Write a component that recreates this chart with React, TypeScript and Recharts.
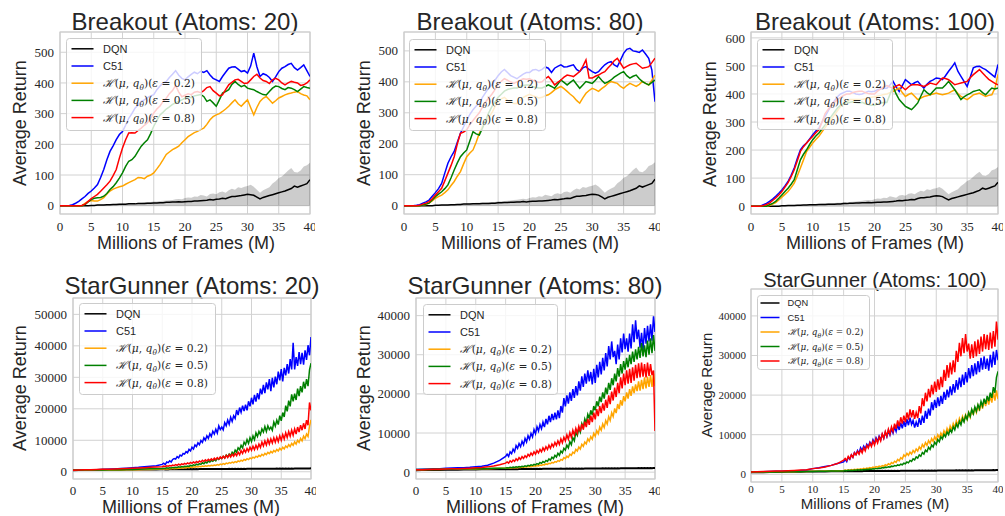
import React from 'react';
import { ComposedChart, Line, Area, XAxis, YAxis, CartesianGrid, ReferenceArea, Legend } from 'recharts';

// ---------- data ----------
// Breakout panels: sampled every 0.5M frames
const FRAMES = [
  0, 0.5, 1, 1.5, 2, 2.5, 3, 3.5, 4, 4.5,
  5, 5.5, 6, 6.5, 7, 7.5, 8, 8.5, 9, 9.5,
  10, 10.5, 11, 11.5, 12, 12.5, 13, 13.5, 14, 14.5,
  15, 15.5, 16, 16.5, 17, 17.5, 18, 18.5, 19, 19.5,
  20, 20.5, 21, 21.5, 22, 22.5, 23, 23.5, 24, 24.5,
  25, 25.5, 26, 26.5, 27, 27.5, 28, 28.5, 29, 29.5,
  30, 30.5, 31, 31.5, 32, 32.5, 33, 33.5, 34, 34.5,
  35, 35.5, 36, 36.5, 37, 37.5, 38, 38.5, 39, 39.5,
  40,
];
// StarGunner panels: every 1M up to 15M, then every 0.25M
const SG_FRAMES = [
  0, 1, 2, 3, 4, 5, 6, 7, 8, 9, 10, 11, 12, 13, 14, 15,
  15.25, 15.5, 15.75, 16, 16.25, 16.5, 16.75, 17,
  17.25, 17.5, 17.75, 18, 18.25, 18.5, 18.75, 19,
  19.25, 19.5, 19.75, 20, 20.25, 20.5, 20.75, 21,
  21.25, 21.5, 21.75, 22, 22.25, 22.5, 22.75, 23,
  23.25, 23.5, 23.75, 24, 24.25, 24.5, 24.75, 25,
  25.25, 25.5, 25.75, 26, 26.25, 26.5, 26.75, 27,
  27.25, 27.5, 27.75, 28, 28.25, 28.5, 28.75, 29,
  29.25, 29.5, 29.75, 30, 30.25, 30.5, 30.75, 31,
  31.25, 31.5, 31.75, 32, 32.25, 32.5, 32.75, 33,
  33.25, 33.5, 33.75, 34, 34.25, 34.5, 34.75, 35,
  35.25, 35.5, 35.75, 36, 36.25, 36.5, 36.75, 37,
  37.25, 37.5, 37.75, 38, 38.25, 38.5, 38.75, 39,
  39.25, 39.5, 39.75, 40,
];
const X_TICKS = [0, 5, 10, 15, 20, 25, 30, 35, 40];
const Y_TICKS_BREAKOUT = [0, 100, 200, 300, 400, 500];
const Y_TICKS_BREAKOUT_100 = [0, 100, 200, 300, 400, 500, 600];
const Y_TICKS_SG_20 = [0, 10000, 20000, 30000, 40000, 50000];
const Y_TICKS_SG = [0, 10000, 20000, 30000, 40000];

const SERIES_LABELS = ['DQN', 'C51', '0.2', '0.5', '0.8'];

const BREAKOUT_DQN = [
  0, 0, 0, 0, 0, 0, 0, 0, 0, 0,
  1, 1, 2, 2, 2, 3, 3, 4, 4, 5,
  5, 5, 6, 6, 6, 7, 7, 7, 8, 8,
  9, 9, 10, 10, 11, 11, 12, 12, 13, 12,
  13, 14, 14, 15, 15, 16, 17, 18, 20, 19,
  21, 22, 24, 23, 27, 30, 30, 32, 33, 35,
  37, 36, 34, 28, 22, 27, 30, 33, 36, 39,
  42, 45, 48, 52, 56, 64, 60, 64, 68, 72,
  85,
];
const BREAKOUT_DQN_HIGH = [
  0, 0, 0, 0, 0, 0, 0, 0, 1, 1,
  2, 2, 3, 3, 4, 4, 5, 5, 6, 6,
  7, 7, 8, 9, 9, 10, 10, 11, 12, 12,
  14, 14, 15, 16, 17, 18, 19, 21, 22, 21,
  25, 27, 26, 30, 29, 35, 33, 30, 38, 40,
  37, 44, 46, 42, 50, 55, 52, 60, 58, 62,
  64, 68, 62, 52, 42, 50, 55, 60, 72, 80,
  90, 95, 105, 115, 123, 110, 108, 115, 128, 132,
  140,
];

const B20_C51 = [
  0, 0, 0, 1, 3, 8, 14, 22, 30, 40,
  48, 58, 69, 92, 118, 150, 177, 195, 215, 232,
  242, 262, 285, 300, 318, 328, 340, 345, 352, 358,
  362, 378, 390, 400, 405, 418, 428, 440, 425, 415,
  410, 420, 428, 435, 430, 438, 434, 440, 426, 415,
  410, 405, 421, 435, 448, 452, 453, 445, 437, 440,
  432, 455, 497, 453, 421, 430, 426, 418, 405, 420,
  437, 448, 453, 460, 464, 450, 442, 450, 459, 440,
  421,
];
const B20_E02 = [
  0, 0, 0, 0, 0, 0, 0, 0, 8, 14,
  17, 15, 15, 20, 26, 38, 48, 54, 58, 62,
  64, 70, 75, 80, 85, 92, 91, 88, 96, 100,
  107, 120, 134, 150, 167, 175, 183, 188, 194, 205,
  215, 225, 232, 238, 242, 248, 253, 265, 280, 290,
  296, 300, 307, 315, 324, 335, 345, 332, 324, 335,
  345, 320, 296, 320, 340, 350, 356, 345, 334, 342,
  351, 356, 361, 365, 367, 370, 372, 365, 361, 358,
  345,
];
const B20_E05 = [
  0, 0, 0, 0, 0, 0, 0, 0, 4, 12,
  20, 24, 26, 27, 31, 40, 53, 62, 75, 90,
  107, 128, 145, 150, 161, 178, 194, 205, 215, 235,
  259, 278, 296, 305, 315, 322, 330, 335, 340, 345,
  350, 355, 352, 358, 360, 362, 356, 340, 345, 335,
  324, 345, 367, 372, 378, 395, 405, 395, 388, 392,
  383, 380, 378, 372, 367, 362, 361, 372, 383, 390,
  388, 382, 378, 385, 383, 378, 372, 380, 388, 385,
  383,
];
const B20_E08 = [
  0, 0, 0, 0, 0, 0, 0, 1, 5, 14,
  23, 30, 37, 47, 58, 68, 80, 98, 118, 155,
  188, 215, 237, 238, 237, 245, 253, 262, 270, 285,
  302, 315, 325, 340, 350, 365, 375, 392, 370, 355,
  360, 365, 362, 370, 372, 368, 375, 385, 388, 375,
  367, 358, 361, 378, 394, 402, 410, 412, 405, 398,
  400, 410, 421, 428, 416, 408, 405, 398, 410, 415,
  410, 400, 394, 400, 405, 402, 400, 392, 394, 400,
  410,
];

const B80_C51 = [
  0, 0, 0, 0, 1, 3, 8, 12, 18, 30,
  42, 55, 72, 105, 137, 158, 175, 205, 234, 255,
  277, 295, 310, 322, 330, 350, 365, 380, 390, 405,
  420, 432, 440, 430, 420, 415, 410, 418, 425, 430,
  430, 438, 440, 435, 440, 448, 444, 430, 444, 450,
  455, 448, 449, 452, 455, 440, 433, 445, 449, 440,
  433, 428, 433, 445, 455, 462, 465, 455, 449, 470,
  492, 505, 508, 500, 498, 495, 503, 490, 476, 438,
  336,
];
const B80_E02 = [
  0, 0, 0, 0, 0, 0, 2, 4, 8, 15,
  24, 29, 34, 42, 51, 65, 78, 95, 110, 135,
  158, 170, 180, 205, 234, 255, 270, 285, 300, 320,
  335, 345, 350, 340, 335, 330, 330, 340, 350, 355,
  360, 355, 352, 348, 350, 355, 358, 365, 374, 380,
  385, 378, 369, 360, 352, 340, 331, 348, 363, 372,
  379, 375, 369, 378, 385, 395, 401, 398, 395, 385,
  379, 388, 395, 390, 385, 392, 401, 395, 390, 405,
  422,
];
const B80_E05 = [
  0, 0, 0, 0, 0, 0, 2, 5, 8, 18,
  29, 37, 45, 55, 67, 90, 115, 138, 158, 170,
  180, 210, 239, 232, 228, 250, 275, 300, 320, 335,
  350, 360, 370, 375, 378, 380, 380, 385, 388, 390,
  390, 385, 382, 380, 380, 385, 390, 385, 379, 392,
  406, 398, 390, 398, 406, 392, 379, 390, 401, 398,
  395, 405, 417, 405, 395, 400, 406, 415, 422, 428,
  433, 420, 412, 418, 422, 410, 401, 395, 390, 398,
  406,
];
const B80_E08 = [
  0, 0, 0, 0, 0, 1, 5, 8, 13, 22,
  34, 45, 56, 80, 105, 130, 158, 200, 234, 238,
  245, 262, 275, 288, 300, 318, 335, 348, 360, 375,
  392, 402, 410, 405, 400, 395, 400, 405, 410, 408,
  410, 405, 402, 398, 400, 410, 417, 405, 390, 398,
  406, 415, 422, 420, 417, 425, 433, 450, 471, 412,
  412, 418, 422, 428, 433, 445, 455, 468, 476, 460,
  444, 450, 455, 458, 460, 452, 444, 446, 449, 462,
  476,
];

const B100_C51 = [
  0, 0, 0, 0, 5, 10, 17, 25, 35, 46,
  58, 72, 88, 110, 136, 170, 201, 215, 225, 240,
  255, 268, 278, 300, 320, 340, 360, 375, 390, 400,
  405, 410, 410, 405, 400, 398, 400, 405, 410, 408,
  410, 415, 418, 420, 420, 432, 445, 425, 409, 430,
  451, 442, 433, 440, 445, 432, 421, 435, 445, 450,
  457, 455, 451, 465, 481, 495, 511, 481, 463, 445,
  427, 460, 493, 498, 499, 492, 487, 478, 469, 460,
  505,
];
const B100_E02 = [
  0, 0, 0, 0, 0, 0, 2, 7, 13, 22,
  32, 42, 52, 66, 82, 108, 136, 165, 195, 210,
  225, 238, 249, 265, 280, 295, 310, 325, 340, 355,
  365, 372, 380, 380, 380, 380, 380, 383, 385, 388,
  390, 393, 395, 398, 400, 405, 409, 415, 421, 405,
  391, 398, 403, 392, 380, 385, 391, 394, 397, 400,
  403, 400, 397, 400, 403, 409, 415, 402, 391, 385,
  380, 388, 397, 400, 403, 397, 391, 395, 397, 420,
  470,
];
const B100_E05 = [
  0, 0, 0, 0, 0, 0, 5, 10, 17, 28,
  40, 52, 64, 78, 94, 130, 165, 185, 201, 220,
  237, 250, 261, 275, 290, 305, 320, 335, 350, 360,
  365, 370, 370, 372, 370, 368, 370, 365, 362, 360,
  360, 365, 368, 370, 370, 398, 427, 400, 380, 368,
  356, 350, 344, 355, 368, 392, 415, 405, 397, 410,
  421, 421, 421, 432, 445, 430, 415, 398, 380, 390,
  397, 402, 409, 412, 415, 405, 397, 410, 421, 418,
  421,
];
const B100_E08 = [
  0, 0, 0, 0, 2, 6, 11, 20, 29, 40,
  52, 68, 84, 105, 130, 162, 195, 212, 225, 238,
  249, 262, 272, 300, 330, 345, 358, 370, 380, 388,
  395, 400, 400, 405, 408, 410, 410, 405, 402, 400,
  400, 410, 418, 425, 430, 425, 421, 428, 433, 425,
  415, 425, 433, 433, 433, 430, 427, 432, 439, 436,
  433, 445, 457, 455, 451, 442, 433, 436, 439, 442,
  445, 458, 469, 478, 487, 475, 463, 452, 445, 438,
  433,
];

const SG_DQN = [
  500, 520, 540, 560, 580, 600, 620, 640, 660, 680, 700, 710, 720, 740, 750, 760,
  780, 740, 790, 750, 800, 760, 800, 770,
  810, 780, 820, 790, 830, 800, 830, 800,
  840, 810, 850, 820, 850, 820, 860, 830,
  870, 840, 870, 840, 880, 850, 880, 850,
  890, 860, 890, 860, 900, 870, 900, 870,
  910, 880, 910, 880, 920, 890, 920, 890,
  930, 900, 930, 900, 940, 910, 940, 910,
  950, 920, 950, 920, 960, 930, 960, 930,
  970, 940, 970, 940, 980, 950, 980, 950,
  990, 960, 990, 960, 1000, 970, 1000, 970,
  1010, 980, 1010, 980, 1020, 990, 1020, 990,
  1030, 1000, 1030, 1000, 1040, 1010, 1040, 1010,
  1050, 1020, 1060, 1080,
];

const SG20_C51 = [
  500, 520, 550, 580, 620, 700, 780, 880, 1000, 1150, 1270, 1400, 1590, 1750, 1900, 2330,
  2700, 2300, 3100, 2900, 3500, 3100, 3900, 4200,
  4000, 4800, 4400, 5300, 5000, 5800, 5600, 6400,
  6000, 7100, 6600, 7800, 7200, 8500, 8000, 9200,
  8600, 9900, 9300, 10800, 10000, 11400, 10600, 12100,
  11200, 12900, 12000, 13500, 12300, 14600, 13400, 14200,
  13300, 15600, 14600, 16400, 15100, 17300, 16000, 17800,
  16900, 19600, 18000, 20400, 18900, 21000, 19300, 21300,
  19500, 22400, 20800, 23500, 21400, 24400, 22300, 25000,
  23000, 26400, 24600, 27600, 25000, 28400, 26200, 29400,
  25600, 29800, 26800, 30200, 27800, 31800, 29000, 32600,
  28700, 33000, 30600, 34200, 31200, 35800, 32500, 41000,
  32500, 36400, 33600, 38000, 34200, 37800, 34000, 38600,
  35500, 40200, 37000, 42800,
];
const SG20_E02 = [
  480, 490, 500, 510, 520, 530, 550, 570, 590, 610, 640, 670, 700, 740, 790, 850,
  920, 860, 980, 900, 1020, 950, 1080, 1000,
  1120, 1050, 1180, 1100, 1250, 1150, 1320, 1220,
  1400, 1300, 1480, 1380, 1560, 1450, 1650, 1530,
  1720, 1600, 1800, 1680, 1880, 1750, 1960, 1830,
  2050, 1900, 2150, 2000, 2280, 2120, 2420, 2250,
  2580, 2380, 2750, 2550, 2900, 2700, 3050, 2850,
  3250, 3000, 3450, 3200, 3650, 3400, 3900, 3650,
  4150, 3850, 4400, 4100, 4650, 4350, 4950, 4600,
  5250, 4900, 5550, 5150, 5850, 5450, 6150, 5750,
  6450, 6000, 6750, 6300, 7100, 6600, 7450, 6900,
  7800, 7250, 8200, 7700, 8600, 8000, 9000, 8400,
  9500, 8800, 10000, 9300, 10600, 9800, 11300, 10500,
  12000, 11200, 14500, 16500,
];
const SG20_E05 = [
  500, 510, 520, 540, 560, 580, 600, 630, 660, 700, 750, 800, 850, 920, 980, 1060,
  1150, 1050, 1250, 1120, 1300, 1200, 1380, 1300,
  1450, 1350, 1550, 1420, 1650, 1500, 1750, 1650,
  1850, 1700, 2050, 1850, 2200, 2000, 2400, 2200,
  2600, 2350, 2850, 2550, 3100, 2800, 3400, 3100,
  3600, 3300, 3900, 3500, 4300, 3900, 4500, 4200,
  4900, 4400, 5300, 4700, 5600, 5100, 6200, 5600,
  6900, 6200, 7600, 7000, 8400, 7600, 9400, 8600,
  10200, 9000, 10800, 9600, 11400, 10200, 12400, 11200,
  12800, 11800, 13600, 12600, 14400, 12800, 14600, 13400,
  14200, 13200, 15800, 14500, 16400, 15000, 17800, 16200,
  18800, 17400, 21000, 19200, 22600, 20800, 24600, 22400,
  24800, 22800, 26400, 24000, 27200, 25200, 28600, 26400,
  29400, 27200, 32400, 34500,
];
const SG20_E08 = [
  500, 560, 600, 650, 700, 760, 820, 900, 980, 1060, 1120, 1200, 1300, 1400, 1500, 1600,
  1800, 1600, 1900, 1750, 2000, 1850, 2150, 1950,
  2250, 2050, 2400, 2150, 2500, 2300, 2650, 2400,
  2800, 2500, 2950, 2650, 3100, 2800, 3250, 2950,
  3450, 3100, 3650, 3250, 3800, 3400, 3950, 3550,
  4100, 3700, 4300, 3850, 4500, 4000, 4700, 4200,
  4900, 4300, 5200, 4500, 5400, 4700, 5600, 4900,
  5800, 5100, 6200, 5400, 6700, 5800, 7100, 6200,
  7400, 6500, 7800, 6800, 8100, 7000, 8400, 7300,
  8800, 7700, 9400, 8200, 9800, 8500, 10200, 8800,
  10400, 9100, 10800, 9400, 11000, 9600, 11400, 10000,
  11800, 10400, 12400, 10900, 12800, 11300, 13200, 11600,
  13600, 12000, 14200, 12600, 14800, 13200, 15400, 13600,
  16400, 14800, 22000, 19500,
];

const SG80_C51 = [
  700, 760, 800, 850, 900, 1000, 1050, 1100, 1150, 1250, 1400, 1500, 1750, 2300, 3000, 4000,
  4600, 4000, 5200, 4700, 5900, 5200, 6800, 6100,
  7300, 6500, 7900, 7000, 8600, 7700, 9300, 8400,
  9900, 9000, 10900, 9800, 11600, 10500, 12200, 11100,
  12800, 11500, 13600, 12200, 14400, 12800, 14900, 13300,
  15200, 13500, 15800, 13800, 16900, 15200, 18900, 16800,
  19600, 17500, 20400, 18200, 21200, 19000, 22000, 19600,
  23200, 20800, 24500, 21800, 25200, 22600, 26000, 23200,
  25600, 22400, 26400, 22800, 27400, 24200, 28200, 25000,
  29200, 26000, 30400, 27000, 32200, 28800, 33400, 29400,
  31000, 27600, 32600, 28800, 34200, 30600, 35400, 31400,
  34200, 30800, 35400, 31600, 37800, 33200, 38800, 34000,
  36400, 31800, 35600, 31200, 36800, 32800, 37400, 33400,
  37800, 33600, 39800, 35800,
];
const SG80_E02 = [
  620, 640, 660, 680, 700, 720, 740, 760, 780, 800, 830, 860, 890, 930, 970, 1020,
  1080, 1020, 1120, 1060, 1160, 1100, 1210, 1150,
  1260, 1200, 1320, 1250, 1380, 1310, 1450, 1380,
  1520, 1440, 1600, 1520, 1700, 1600, 1820, 1720,
  1950, 1840, 2100, 1980, 2280, 2150, 2480, 2340,
  2700, 2550, 2950, 2750, 3250, 3050, 3700, 3450,
  4100, 3800, 4600, 4300, 5100, 4800, 5800, 5400,
  6400, 5900, 7100, 6600, 7700, 7200, 8500, 7900,
  9100, 8400, 9900, 9200, 10600, 9800, 11500, 10700,
  12300, 11400, 13200, 12300, 14200, 13200, 15200, 14200,
  16300, 15100, 17400, 16100, 18400, 17000, 19400, 18100,
  20400, 18800, 21200, 19500, 21900, 20200, 22400, 20700,
  23200, 20800, 23600, 21200, 24200, 21400, 24400, 21800,
  24800, 21800, 25200, 22000,
];
const SG80_E05 = [
  650, 670, 690, 710, 730, 750, 770, 790, 810, 840, 870, 900, 930, 970, 1010, 1060,
  1150, 1080, 1220, 1130, 1280, 1180, 1350, 1250,
  1420, 1320, 1500, 1400, 1600, 1480, 1720, 1580,
  1850, 1700, 2000, 1850, 2200, 2000, 2450, 2250,
  2700, 2450, 3000, 2750, 3400, 3050, 3800, 3450,
  4300, 3850, 4800, 4300, 5400, 4900, 6100, 5600,
  6900, 6200, 7800, 7000, 8800, 8000, 10200, 9400,
  11200, 10200, 12400, 11400, 13600, 12500, 14800, 13800,
  15800, 14600, 16900, 15800, 18100, 16800, 19300, 17900,
  20400, 18800, 21600, 19900, 22800, 21000, 24000, 22200,
  25200, 23200, 26600, 24400, 27600, 25200, 28400, 26200,
  29200, 26800, 30000, 27600, 30800, 28200, 31400, 28800,
  32000, 29200, 33000, 29600, 32400, 29400, 33600, 30000,
  34200, 30400, 35000, 31000,
];
const SG80_E08 = [
  600, 640, 680, 720, 760, 800, 850, 900, 960, 1020, 1100, 1200, 1350, 1600, 1900, 2300,
  2600, 2300, 2900, 2550, 3100, 2750, 3400, 3000,
  3700, 3250, 3950, 3500, 4200, 3750, 4550, 4100,
  4900, 4350, 5200, 4600, 5500, 4900, 5800, 5200,
  6200, 5500, 6500, 5800, 6900, 6100, 7200, 6500,
  7600, 6800, 8000, 7100, 8500, 7500, 8900, 8000,
  9500, 8400, 10100, 8900, 10700, 9500, 11200, 10000,
  11700, 10400, 12300, 10900, 12900, 11500, 13600, 12100,
  14400, 12800, 15200, 13500, 16100, 14300, 16900, 15100,
  17600, 15700, 18500, 16400, 19600, 17400, 20600, 18300,
  21600, 19200, 22800, 20200, 24200, 21400, 25200, 22200,
  26000, 22600, 26400, 22800, 26800, 23400, 27400, 24000,
  27800, 24200, 28000, 24400, 27600, 24200, 28000, 24600,
  27600, 24800, 26000, 10500,
];

const SG100_C51 = [
  580, 620, 660, 700, 740, 760, 820, 880, 960, 1100, 1430, 1650, 1950, 2250, 2700, 3120,
  3700, 3200, 4300, 3800, 4900, 4300, 5500, 5000,
  6000, 5300, 6700, 6000, 7100, 6400, 7600, 7000,
  8100, 7300, 8700, 7800, 9200, 8300, 9600, 8700,
  10100, 9100, 10600, 9500, 11100, 9900, 11500, 10400,
  12000, 10800, 12500, 11200, 13000, 11600, 13400, 12000,
  13900, 12400, 14300, 12600, 13600, 11800, 13200, 12000,
  14200, 12500, 14800, 13000, 16000, 14000, 16600, 14800,
  18200, 16200, 18800, 16800, 19400, 17200, 19800, 17800,
  20800, 18800, 21400, 19400, 22200, 20000, 22800, 20600,
  23800, 21400, 24400, 22000, 25200, 22600, 25800, 23200,
  26800, 24200, 27600, 24800, 28000, 25200, 28600, 25800,
  29400, 26400, 29800, 26600, 29200, 26200, 30200, 27000,
  31000, 27600, 31400, 28800,
];
const SG100_E02 = [
  560, 570, 580, 590, 610, 630, 650, 670, 690, 720, 750, 780, 820, 860, 910, 970,
  1060, 980, 1120, 1040, 1180, 1100, 1250, 1160,
  1330, 1230, 1400, 1300, 1480, 1370, 1580, 1460,
  1700, 1560, 1820, 1680, 1940, 1790, 2060, 1900,
  2200, 2020, 2400, 2200, 2650, 2420, 2950, 2700,
  3300, 3000, 3750, 3400, 4200, 3850, 4900, 4500,
  5300, 4800, 5600, 5100, 6000, 5500, 6400, 5900,
  6900, 6300, 7500, 6900, 8000, 7300, 8500, 7800,
  9000, 8300, 9500, 8700, 10000, 9200, 10400, 9600,
  11000, 10100, 11600, 10600, 12200, 11200, 12800, 11800,
  13500, 12400, 14100, 13000, 14600, 13500, 15000, 13900,
  15600, 14400, 16300, 15000, 16900, 15600, 17300, 16000,
  18000, 16600, 18700, 17200, 19200, 17600, 19800, 18100,
  20800, 18600, 21200, 19000,
];
const SG100_E05 = [
  550, 560, 570, 580, 590, 610, 630, 650, 670, 690, 720, 750, 780, 810, 850, 890,
  960, 900, 1000, 940, 1040, 980, 1080, 1020,
  1120, 1060, 1160, 1100, 1210, 1140, 1260, 1190,
  1320, 1250, 1400, 1320, 1480, 1400, 1560, 1480,
  1680, 1580, 1800, 1700, 1920, 1820, 2050, 1950,
  2200, 2080, 2360, 2220, 2550, 2400, 2800, 2650,
  3100, 2900, 3500, 3250, 3900, 3650, 4400, 4100,
  4900, 4550, 5500, 5100, 6100, 5700, 6800, 6300,
  7400, 6900, 8100, 7500, 8800, 8200, 9500, 8900,
  10100, 9500, 10700, 10000, 11300, 10600, 12000, 11200,
  12700, 11900, 13400, 12500, 14100, 13200, 14800, 13900,
  15600, 14600, 16400, 15300, 17000, 15900, 17600, 16500,
  18400, 17200, 19100, 17800, 19800, 18500, 20600, 19300,
  22000, 20600, 24500, 26000,
];
const SG100_E08 = [
  600, 650, 700, 750, 800, 840, 900, 960, 1050, 1150, 1430, 1600, 1860, 2250, 2700, 3540,
  4000, 3500, 4500, 3900, 4900, 4300, 5400, 4900,
  5800, 5100, 6200, 5400, 6700, 5900, 7300, 6600,
  7900, 7000, 8400, 7400, 8900, 7900, 9400, 8400,
  10200, 9100, 10800, 9600, 11400, 10200, 12000, 10800,
  12800, 11500, 13600, 12100, 14400, 12800, 14800, 13200,
  15600, 13800, 16400, 14400, 16200, 14000, 15600, 14200,
  17200, 15400, 19200, 17200, 20600, 18400, 21600, 19400,
  22600, 20200, 23400, 20800, 24000, 21400, 24600, 22000,
  26400, 23600, 27600, 24400, 28200, 25200, 28800, 25800,
  31200, 28400, 33200, 29800, 34400, 30600, 35400, 31000,
  33000, 29200, 32800, 29400, 33600, 29800, 34000, 30400,
  34800, 31000, 35400, 31600, 35200, 31400, 35800, 31800,
  36200, 32200, 38600, 34000,
];

// ---------- styling ----------
const COLORS = ['#000000', '#0000ff', '#ffa500', '#008000', '#ff0000'];
const KEYS = ['dqn', 'c51', 'e02', 'e05', 'e08'];
const TEXT = '#262626';
const SANS = "'Liberation Sans', Arial, sans-serif";
const SERIF = "'Liberation Serif', 'Times New Roman', serif";

type LegendCfg = { x: number; y: number; w: number; h: number; font: number; row0: number; gap: number; l0: number; l1: number; tx: number; mathW: number };
type PanelCfg = {
  L: number; T: number; R: number; B: number;
  frames: number[];
  yDomain: [number, number]; yTicks: number[];
  series: number[][]; band?: number[];
  tickFont: number; xTickMargin: number; yTickMargin: number;
  dqnWidth: number;
  legend: LegendCfg;
};

const MathLabel = ({ x, y, size, eps, width }: { x: number; y: number; size: number; eps: string; width: number }) => (
  <text x={x} y={y} fontSize={size} fontFamily="'DejaVu Serif', 'Liberation Serif', serif" fill={TEXT} textLength={width} lengthAdjust="spacingAndGlyphs">
    <tspan fontStyle="italic">ℋ</tspan>
    <tspan>(</tspan>
    <tspan fontStyle="italic">μ</tspan>
    <tspan>{', '}</tspan>
    <tspan fontStyle="italic">q</tspan>
    <tspan fontStyle="italic" fontSize={size * 0.7} dy={size * 0.25}>θ</tspan>
    <tspan dy={-size * 0.25}>)(</tspan>
    <tspan fontStyle="italic">ε</tspan>
    <tspan>{' = ' + eps + ')'}</tspan>
  </text>
);

const LegendBox = ({ cfg }: { cfg: LegendCfg }) => (
  <svg width={cfg.w} height={cfg.h} style={{ display: 'block' }}>
    <rect x={0.5} y={0.5} width={cfg.w - 1} height={cfg.h - 1} rx={3} ry={3} fill="#ffffff" fillOpacity={0.8} stroke="#cccccc" strokeWidth={1} />
    {SERIES_LABELS.map((lab, i) => {
      const cy = cfg.row0 + i * cfg.gap;
      return (
        <g key={lab}>
          <line x1={cfg.l0} x2={cfg.l1} y1={cy} y2={cy} stroke={COLORS[i]} strokeWidth={1.5} />
          {i < 2 ? (
            <text x={cfg.tx} y={cy + cfg.font * 0.36} fontSize={cfg.font} fontFamily={SANS} fill={TEXT}>{lab}</text>
          ) : (
            <MathLabel x={cfg.tx} y={cy + cfg.font * 0.36} size={cfg.font} eps={lab} width={cfg.mathW} />
          )}
        </g>
      );
    })}
  </svg>
);

const makeXTick = (size: number) => (props: any) => (
  <text x={props.x} y={props.y} dy="0.71em" textAnchor="middle" fontSize={size} fontFamily={SERIF} fill={TEXT}>
    {props.payload.value}
  </text>
);
const makeYTick = (size: number) => (props: any) => (
  <text x={props.x} y={props.y} dy="0.355em" textAnchor="end" fontSize={size} fontFamily={SERIF} fill={TEXT}>
    {props.payload.value}
  </text>
);

const Panel = ({ cfg }: { cfg: PanelCfg }) => {
  const { L, T, R, B } = cfg;
  const left = L - 50;
  const top = T - 5;
  const rows = cfg.frames.map((x, i) => {
    const r: Record<string, unknown> = { x };
    KEYS.forEach((k, j) => { r[k] = cfg.series[j][i]; });
    if (cfg.band) r.band = [0, cfg.band[i]];
    return r;
  });
  return (
    <div style={{ position: 'absolute', left, top }}>
      <ComposedChart width={R - L + 55} height={B - T + 30} data={rows} margin={{ top: 5, right: 5, bottom: 0, left: 0 }}>
        <CartesianGrid stroke="#d2d2d2" strokeWidth={1} />
        <XAxis type="number" dataKey="x" domain={[0, 40]} ticks={X_TICKS} interval={0} allowDataOverflow
          tickLine={false} tickSize={0} tickMargin={cfg.xTickMargin} axisLine={false} height={25} tick={makeXTick(cfg.tickFont)} />
        <YAxis type="number" domain={cfg.yDomain} ticks={cfg.yTicks} interval={0} allowDataOverflow
          tickLine={false} tickSize={0} tickMargin={cfg.yTickMargin} axisLine={false} width={50} tick={makeYTick(cfg.tickFont)} />
        <ReferenceArea x1={0} x2={40} y1={cfg.yDomain[0]} y2={cfg.yDomain[1]} fill="none" stroke="#cccccc" strokeWidth={1.2} />
        {cfg.band && (
          <Area type="linear" dataKey="band" stroke="none" fill="#000000" fillOpacity={0.2} isAnimationActive={false} activeDot={false} />
        )}
        {KEYS.map((k, j) => (
          <Line key={k} type="linear" dataKey={k} stroke={COLORS[j]} strokeWidth={j === 0 ? cfg.dqnWidth : 1.5} dot={false} activeDot={false} isAnimationActive={false} />
        ))}
        <Legend layout="vertical" align="center" verticalAlign="middle"
          wrapperStyle={{ left: cfg.legend.x - left, top: cfg.legend.y - top, width: cfg.legend.w, height: cfg.legend.h }}
          content={() => <LegendBox cfg={cfg.legend} />} />
      </ComposedChart>
    </div>
  );
};

const bigLegend = (x: number, y: number, w: number, h: number): LegendCfg => ({ x, y, w, h, font: 11, row0: 10.8, gap: 17.2, l0: 5.5, l1: 27.5, tx: 37, mathW: 92 });

const PANELS: PanelCfg[] = [
  { L: 60, T: 32, R: 310, B: 214, frames: FRAMES, yDomain: [-27, 566], yTicks: Y_TICKS_BREAKOUT, series: [BREAKOUT_DQN, B20_C51, B20_E02, B20_E05, B20_E08], band: BREAKOUT_DQN_HIGH, tickFont: 13, xTickMargin: 8, yTickMargin: 6, dqnWidth: 1.5, legend: bigLegend(66, 38, 136, 93) },
  { L: 404, T: 32, R: 655, B: 214, frames: FRAMES, yDomain: [-27, 561], yTicks: Y_TICKS_BREAKOUT, series: [BREAKOUT_DQN, B80_C51, B80_E02, B80_E05, B80_E08], band: BREAKOUT_DQN_HIGH, tickFont: 13, xTickMargin: 8, yTickMargin: 6, dqnWidth: 1.5, legend: bigLegend(409, 39, 137, 92) },
  { L: 751, T: 32, R: 998, B: 214, frames: FRAMES, yDomain: [-28, 621], yTicks: Y_TICKS_BREAKOUT_100, series: [BREAKOUT_DQN, B100_C51, B100_E02, B100_E05, B100_E08], band: BREAKOUT_DQN_HIGH, tickFont: 13, xTickMargin: 8, yTickMargin: 6, dqnWidth: 1.5, legend: bigLegend(757, 39, 136, 91) },
  { L: 73, T: 298, R: 311, B: 479, frames: SG_FRAMES, yDomain: [-2300, 55200], yTicks: Y_TICKS_SG_20, series: [SG_DQN, SG20_C51, SG20_E02, SG20_E05, SG20_E08], tickFont: 13, xTickMargin: 7, yTickMargin: 6, dqnWidth: 2, legend: bigLegend(79, 303, 137, 92) },
  { L: 416, T: 298, R: 655, B: 479, frames: SG_FRAMES, yDomain: [-1750, 44500], yTicks: Y_TICKS_SG, series: [SG_DQN, SG80_C51, SG80_E02, SG80_E05, SG80_E08], tickFont: 13, xTickMargin: 7, yTickMargin: 6, dqnWidth: 2, legend: bigLegend(423, 304, 135, 91) },
  { L: 751, T: 289, R: 998, B: 482, frames: SG_FRAMES, yDomain: [-1950, 46800], yTicks: Y_TICKS_SG, series: [SG_DQN, SG100_C51, SG100_E02, SG100_E05, SG100_E08], tickFont: 11, xTickMargin: 3, yTickMargin: 5, dqnWidth: 2, legend: { x: 757, y: 295, w: 113, h: 75, font: 9.3, row0: 8, gap: 14.5, l0: 3.5, l1: 22.5, tx: 30.5, mathW: 76 } },
];

const TITLES = [
  { text: 'Breakout (Atoms: 20)', x: 185, y: 30, size: 24 },
  { text: 'Breakout (Atoms: 80)', x: 530, y: 30, size: 24 },
  { text: 'Breakout (Atoms: 100)', x: 875, y: 30, size: 24 },
  { text: 'StarGunner (Atoms: 20)', x: 192, y: 294, size: 24 },
  { text: 'StarGunner (Atoms: 80)', x: 535, y: 294, size: 24 },
  { text: 'StarGunner (Atoms: 100)', x: 875, y: 287, size: 20 },
];
const Y_LABELS = [
  { x: 26, y: 123, size: 18 }, { x: 369.5, y: 123, size: 18 }, { x: 716, y: 124, size: 18 },
  { x: 26, y: 388, size: 18 }, { x: 369.5, y: 388, size: 18 }, { x: 711.5, y: 385, size: 15 },
];
const X_LABELS = [
  { x: 186, y: 249, size: 18 }, { x: 530, y: 249, size: 18 }, { x: 875, y: 249, size: 18 },
  { x: 191, y: 513, size: 18 }, { x: 535, y: 513, size: 18 }, { x: 875, y: 509, size: 15 },
];

export default function App() {
  return (
    <div style={{ position: 'absolute', left: 0, top: 0, width: 1005, height: 516, background: '#ffffff', overflow: 'hidden' }}>
      <svg width={1005} height={516} style={{ position: 'absolute', left: 0, top: 0 }}>
        {TITLES.map((t) => (
          <text key={t.text} x={t.x} y={t.y} textAnchor="middle" fontSize={t.size} fontFamily={SANS} fill={TEXT}>{t.text}</text>
        ))}
        {Y_LABELS.map((t, i) => (
          <text key={'y' + i} transform={`translate(${t.x},${t.y}) rotate(-90)`} textAnchor="middle" fontSize={t.size} fontFamily={SANS} fill={TEXT}>Average Return</text>
        ))}
        {X_LABELS.map((t, i) => (
          <text key={'x' + i} x={t.x} y={t.y} textAnchor="middle" fontSize={t.size} fontFamily={SANS} fill={TEXT}>Millions of Frames (M)</text>
        ))}
      </svg>
      {PANELS.map((p, i) => <Panel key={i} cfg={p} />)}
    </div>
  );
}
